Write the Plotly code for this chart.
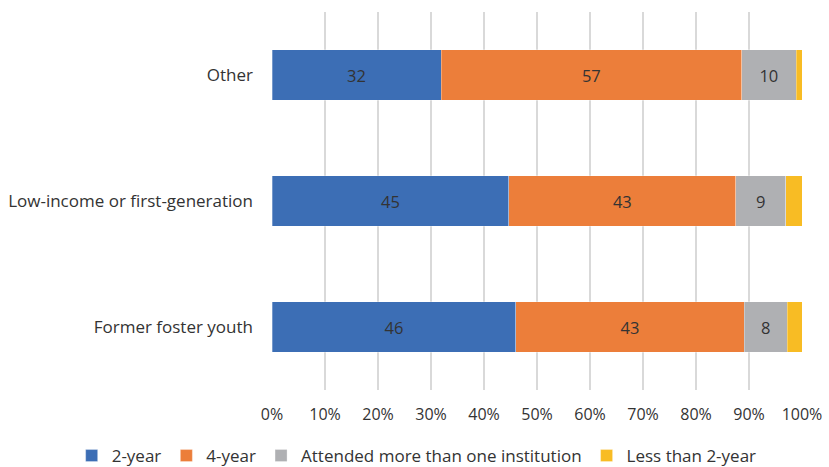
import plotly.graph_objects as go

categories = ["Former foster youth", "Low-income or first-generation", "Other"]
two_year = [46.0, 44.7, 31.9]
four_year = [43.1, 42.8, 56.7]
multi = [8.1, 9.4, 10.3]
less_two = [2.8, 3.1, 1.1]
x_ticks = [0, 10, 20, 30, 40, 50, 60, 70, 80, 90, 100]

series = [
    ("2-year", two_year, "#3C6EB5", True),
    ("4-year", four_year, "#EC7E3A", True),
    ("Attended more than one institution", multi, "#AFB0B3", True),
    ("Less than 2-year", less_two, "#F8BC24", False),
]

FONT = "Open Sans"
TXT = "#333333"
fig = go.Figure()
for name, vals, color, show_text in series:
    fig.add_trace(go.Bar(
        y=categories, x=vals, name=name, orientation="h",
        marker=dict(color=color, line=dict(color="rgba(255,255,255,0.5)", width=0.6)),
        width=0.4,
        text=[f"{v:.0f}" for v in vals] if show_text else None,
        textposition="inside" if show_text else "none",
        insidetextanchor="middle",
        textfont=dict(family=FONT, size=16.5, color=TXT),
        hoverinfo="x+name",
    ))

fig.update_layout(
    barmode="stack",
    width=829, height=467,
    margin=dict(l=272, r=27, t=12, b=77, autoexpand=False),
    paper_bgcolor="white", plot_bgcolor="white",
    font=dict(family=FONT, size=16, color=TXT),
    xaxis=dict(
        range=[0, 100], tickvals=x_ticks, ticktext=[f"{t}%" for t in x_ticks],
        showgrid=True, gridcolor="#D9D9D9", gridwidth=2, zeroline=False,
        showline=False, ticks="", ticklabelstandoff=13,
        tickfont=dict(family=FONT, size=16, color=TXT),
    ),
    yaxis=dict(
        showgrid=False, showline=False, ticks="", ticklabelstandoff=18,
        tickfont=dict(family=FONT, size=17, color=TXT),
        categoryorder="array", categoryarray=categories,
    ),
    legend=dict(
        orientation="h", xref="paper", yref="paper",
        x=-0.378, xanchor="left", y=-0.127, yanchor="top",
        font=dict(family=FONT, size=17, color=TXT),
        traceorder="normal", itemwidth=30,
        bgcolor="rgba(0,0,0,0)",
    ),
    showlegend=True,
)
fig.write_html("out.html")
